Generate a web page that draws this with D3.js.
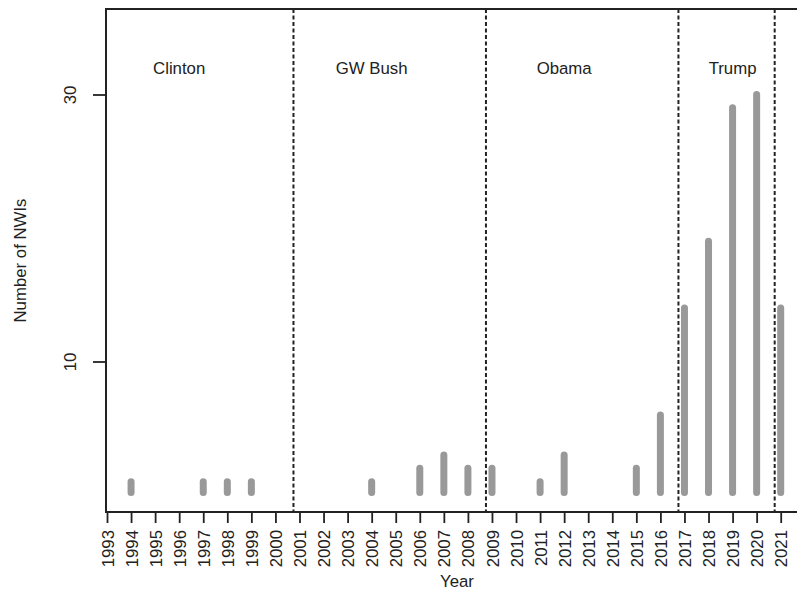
<!DOCTYPE html>
<html>
<head>
<meta charset="utf-8">
<script src="https://cdn.jsdelivr.net/npm/d3@7"></script>
<style>
  html, body { margin: 0; padding: 0; background: #fff; }
  svg { display: block; }
  text { font-family: "Liberation Sans", Arial, Helvetica, sans-serif; fill: #222; }
</style>
</head>
<body>
<svg id="chart" width="797" height="591"></svg>
<script>
// Number of NWIs per year, 1993–2021
const years  = [1993, 1994, 1995, 1996, 1997, 1998, 1999, 2000, 2001, 2002,
                2003, 2004, 2005, 2006, 2007, 2008, 2009, 2010, 2011, 2012,
                2013, 2014, 2015, 2016, 2017, 2018, 2019, 2020, 2021];
const counts = [0, 1, 0, 0, 1, 1, 1, 0, 0, 0,
                0, 1, 0, 2, 3, 2, 2, 0, 1, 3,
                0, 0, 2, 6, 14, 19, 29, 30, 14];

// Administration boundaries (dashed lines) and label positions
const boundaries = [2000.75, 2008.75, 2016.75, 2020.75];
const presidents = ["Clinton", "GW Bush", "Obama", "Trump"];
const labelYears = [1996, 2004, 2012, 2019];

const yTicks = [10, 30];

const svg = d3.select("#chart");

const box = { left: 106, right: 808, top: 9, bottom: 512 };

const x = d3.scaleLinear().domain([1993, 2021]).range([107, 780.7]);
const y = d3.scaleLinear().domain([0, 30]).range([495, 94.5]);

const ink = "#222";
const fontSize = 16.8;

// Bars drawn as thick rounded strokes
const barW = 7;
const data = years.map((yr, i) => ({ year: yr, n: counts[i] })).filter(d => d.n > 0);
svg.append("g").selectAll("rect")
  .data(data)
  .join("rect")
  .attr("x", d => x(d.year) - barW / 2)
  .attr("width", barW)
  .attr("y", d => y(d.n) - barW / 2)
  .attr("height", d => y(0) + 1 - (y(d.n) - barW / 2))
  .attr("rx", barW / 2)
  .attr("fill", "#999999");

// Dashed lines between administrations
svg.append("g").selectAll("line")
  .data(boundaries)
  .join("line")
  .attr("x1", d => x(d)).attr("x2", d => x(d))
  .attr("y1", box.top).attr("y2", box.bottom)
  .attr("stroke", ink)
  .attr("stroke-width", 2)
  .attr("stroke-dasharray", "4,2.5");

// Administration names
svg.append("g").selectAll("text")
  .data(presidents)
  .join("text")
  .attr("x", (d, i) => x(labelYears[i]))
  .attr("y", 74)
  .attr("text-anchor", "middle")
  .style("font-size", fontSize + "px")
  .text(d => d);

// Plot frame
svg.append("rect")
  .attr("x", box.left).attr("y", box.top)
  .attr("width", box.right - box.left).attr("height", box.bottom - box.top)
  .attr("fill", "none")
  .attr("stroke", ink)
  .attr("stroke-width", 2);

// X axis
const xAxis = svg.append("g")
  .attr("transform", `translate(0,${box.bottom})`)
  .call(d3.axisBottom(x).tickValues(years).tickFormat(d3.format("d")).tickSize(11).tickSizeOuter(0));
xAxis.select(".domain").remove();
xAxis.selectAll(".tick line").attr("stroke", ink).attr("stroke-width", 1.8);
xAxis.selectAll(".tick text")
  .attr("transform", "rotate(-90)")
  .attr("x", -18)
  .attr("y", 0)
  .attr("dy", "0.36em")
  .attr("text-anchor", "end")
  .style("font-size", fontSize + "px")
  .attr("fill", ink);

// Y axis
const yAxis = svg.append("g")
  .attr("transform", `translate(${box.left},0)`)
  .call(d3.axisLeft(y).tickValues(yTicks).tickFormat(d3.format("d")).tickSize(13).tickSizeOuter(0));
yAxis.select(".domain").remove();
yAxis.selectAll(".tick line").attr("stroke", ink).attr("stroke-width", 1.8);
yAxis.selectAll(".tick text")
  .attr("transform", "rotate(-90)")
  .attr("x", 0)
  .attr("y", -30)
  .attr("dy", 0)
  .attr("text-anchor", "middle")
  .style("font-size", fontSize + "px")
  .attr("fill", ink);

// Axis titles
svg.append("text")
  .attr("x", 457).attr("y", 587)
  .attr("text-anchor", "middle")
  .style("font-size", fontSize + "px")
  .text("Year");

svg.append("text")
  .attr("transform", `translate(26,${(box.top + box.bottom) / 2}) rotate(-90)`)
  .attr("text-anchor", "middle")
  .style("font-size", fontSize + "px")
  .text("Number of NWIs");
</script>
</body>
</html>
